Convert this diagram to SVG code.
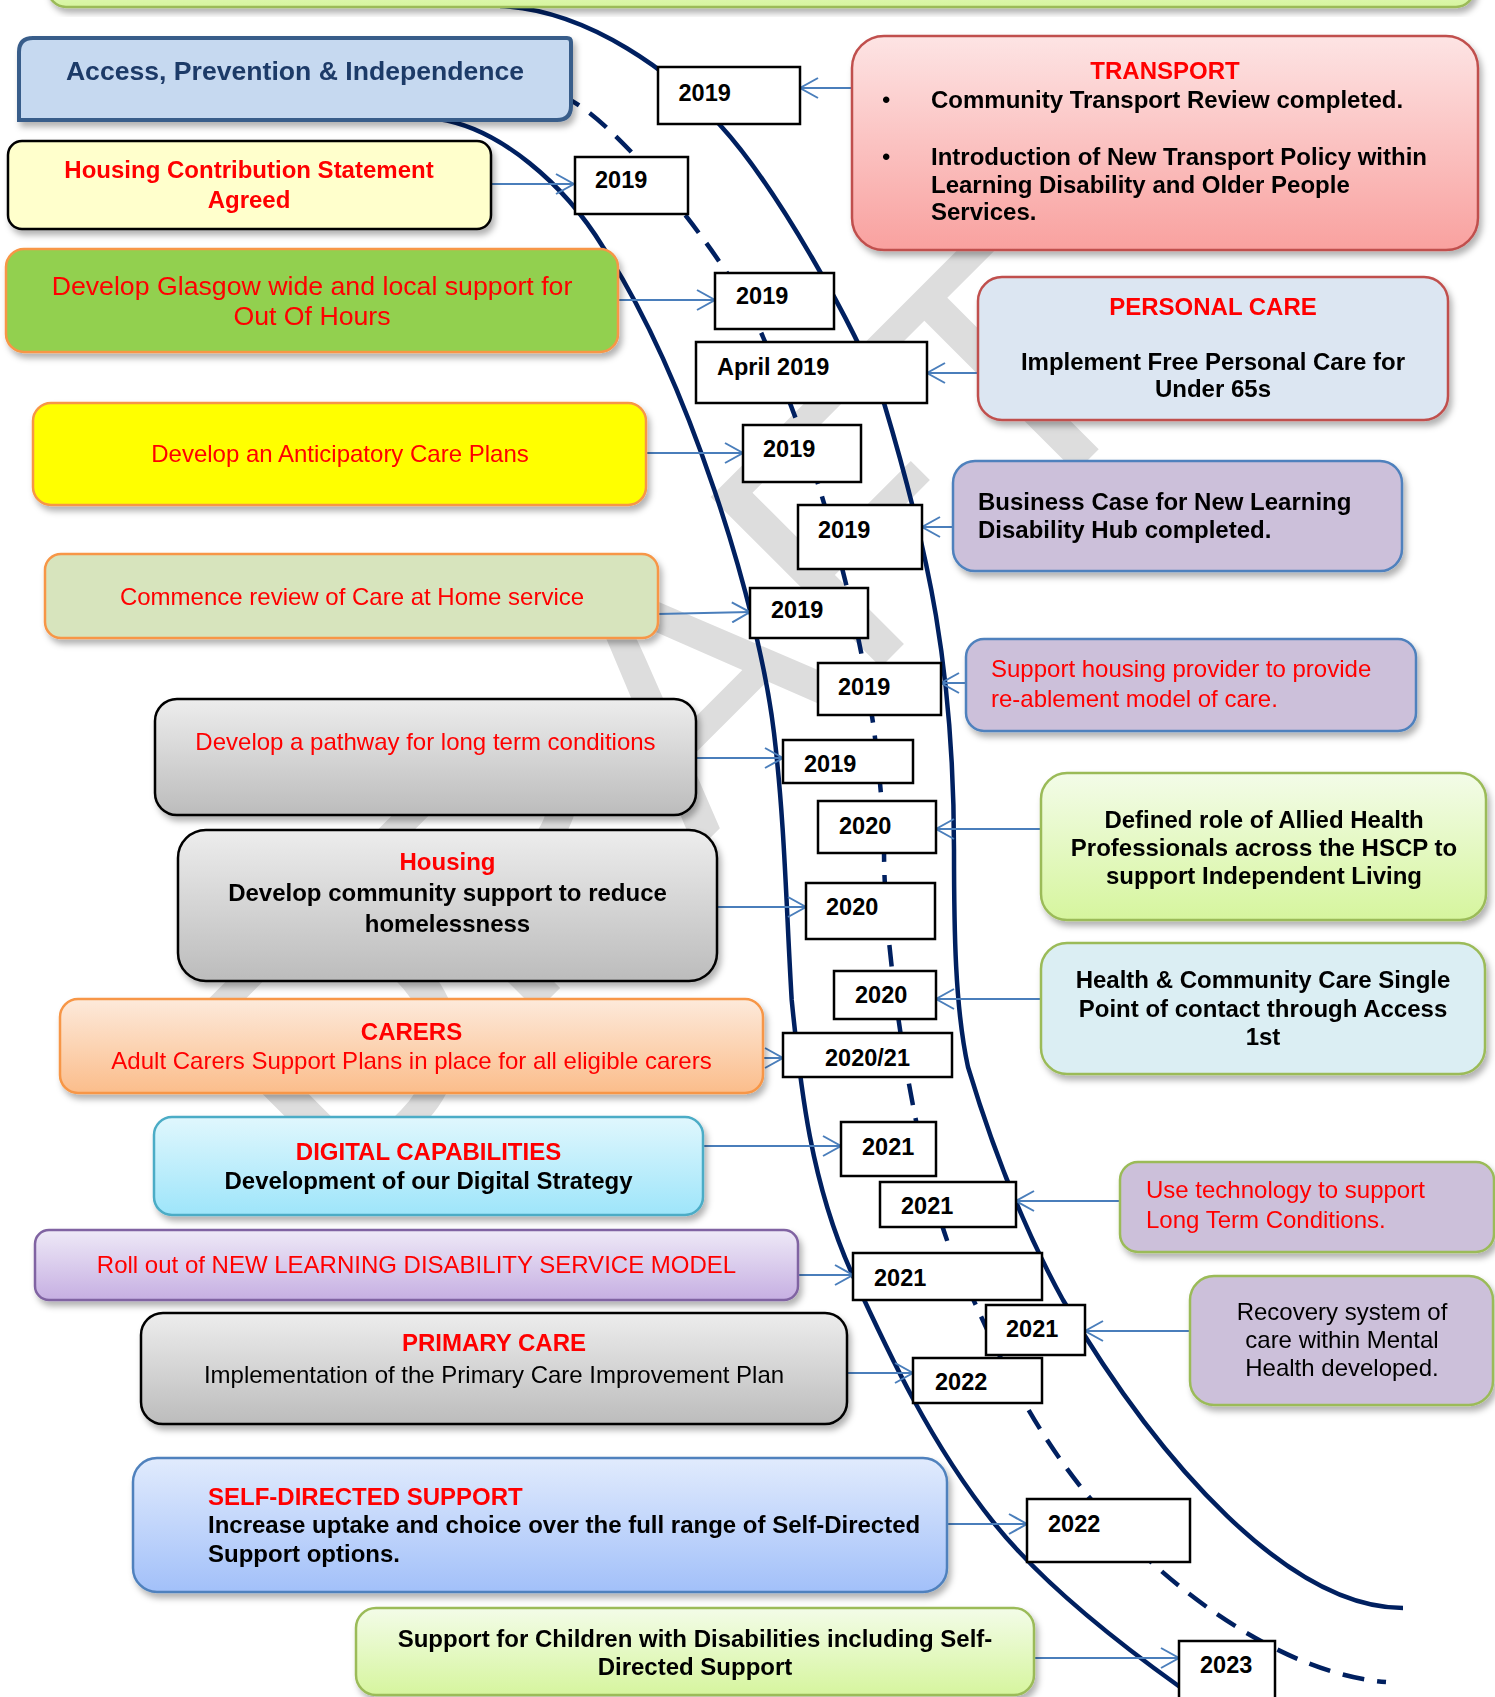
<svg xmlns="http://www.w3.org/2000/svg" width="1495" height="1697" viewBox="0 0 1495 1697">
  <style>
    text { font-family: "Liberation Sans", Arial, Helvetica, sans-serif; font-size: 24px; }
    .b { font-weight: bold; }
    .red { fill: #ff0000; }
    .blk { fill: #000000; }
    .mid { text-anchor: middle; }
    .yr { font-size: 23.5px; font-weight: bold; fill: #000; }
    .yb { fill: #ffffff; stroke: #000000; stroke-width: 2.5; }
    .conn { fill: none; stroke: #4a7ebb; stroke-width: 2; marker-end: url(#arr); }
    .tl { fill: none; stroke: #002060; stroke-width: 4.5; }
    .dash { stroke-dasharray: 22 13; }
    .wm { font-size: 350px; fill: #dddddd; }
  </style>
  <defs>
    <filter id="sh" x="-5%" y="-10%" width="115%" height="130%">
      <feDropShadow dx="3" dy="5" stdDeviation="3" flood-color="#000" flood-opacity="0.3"/>
    </filter>
    <marker id="arr" viewBox="0 0 21 22" refX="19" refY="11" markerWidth="21" markerHeight="22" orient="auto" markerUnits="userSpaceOnUse">
      <path d="M1,1 L19,11 L1,21" fill="none" stroke="#4a7ebb" stroke-width="2"/>
    </marker>
    <linearGradient id="gGreen" x1="0" y1="0" x2="0" y2="1">
      <stop offset="0" stop-color="#f3fce8"/><stop offset="1" stop-color="#d6f59e"/>
    </linearGradient>
    <linearGradient id="gGray" x1="0" y1="0" x2="0" y2="1">
      <stop offset="0" stop-color="#ededed"/><stop offset="1" stop-color="#bcbcbc"/>
    </linearGradient>
    <linearGradient id="gPink" x1="0" y1="0" x2="0" y2="1">
      <stop offset="0" stop-color="#fde4e4"/><stop offset="1" stop-color="#f9a19f"/>
    </linearGradient>
    <linearGradient id="gPeach" x1="0" y1="0" x2="0" y2="1">
      <stop offset="0" stop-color="#fdeadb"/><stop offset="1" stop-color="#fbbd8b"/>
    </linearGradient>
    <linearGradient id="gCyan" x1="0" y1="0" x2="0" y2="1">
      <stop offset="0" stop-color="#e0f7fd"/><stop offset="1" stop-color="#9ee5fa"/>
    </linearGradient>
    <linearGradient id="gLav" x1="0" y1="0" x2="0" y2="1">
      <stop offset="0" stop-color="#eee9f7"/><stop offset="1" stop-color="#c6afe2"/>
    </linearGradient>
    <linearGradient id="gBlue" x1="0" y1="0" x2="0" y2="1">
      <stop offset="0" stop-color="#e1ebfd"/><stop offset="1" stop-color="#a2c0f9"/>
    </linearGradient>
  </defs>

  <!-- background watermark -->
  <g id="watermark">
    <text class="wm" x="338" y="1210" transform="rotate(-45 338 1210)">DRAFT</text>
  </g>

  <!-- timeline road: two solid edges and a dashed centre line -->
  <g id="timeline">
    <path class="tl" d="M500,6 C590,10 675,75 720,125 C775,185 855,325 884,403 C929,553 954,670 954,850 C954,930 955,1007 968,1067 C990,1140 1019,1220 1063,1300 C1160,1465 1290,1608 1403,1608"/>
    <path class="tl" d="M415,116 L438,119 C500,128 565,185 603,247 C687.5,377 758.4,603 774,733 C784.8,823 786.3,910 791.7,1000 C800.7,1090 811.2,1183 851.7,1273 C888.5,1353 930,1443 994,1523 C1042,1583 1117,1642 1180,1687 L1200,1700"/>
    <path class="tl dash" d="M560,95 L572,101 C628,133 735,270 763,337 C829,487 879.5,680 884,850 C884,960 915,1150 948,1243 C988.5,1333 1022.6,1417 1089,1497 C1172,1597 1290,1675 1386,1682"/>
  </g>

  <!-- connectors from each action to its date -->
  <g id="connectors">
    <path class="conn" d="M852,88 L800,88"/>
    <path class="conn" d="M491,184 L574,184"/>
    <path class="conn" d="M618,300 L715,300"/>
    <path class="conn" d="M978,373 L927,373"/>
    <path class="conn" d="M646,453 L743,453"/>
    <path class="conn" d="M953,527 L922,527"/>
    <path class="conn" d="M658,614 L750,612"/>
    <path class="conn" d="M966,683 L941,683"/>
    <path class="conn" d="M696,758 L783,758"/>
    <path class="conn" d="M1041,829 L936,829"/>
    <path class="conn" d="M717,907 L806,907"/>
    <path class="conn" d="M1041,999 L936,999"/>
    <path class="conn" d="M763,1058 L783,1058"/>
    <path class="conn" d="M703,1146 L841,1146"/>
    <path class="conn" d="M1120,1201 L1016,1201"/>
    <path class="conn" d="M798,1275 L853,1275"/>
    <path class="conn" d="M1190,1331 L1085,1331"/>
    <path class="conn" d="M847,1373 L913,1373"/>
    <path class="conn" d="M947,1524 L1027,1524"/>
    <path class="conn" d="M1034,1658 L1179,1658"/>
  </g>

  <!-- action boxes -->
  <g id="n-top" filter="url(#sh)">
    <rect x="48" y="-40" width="1426" height="47" rx="18" fill="url(#gGreen)" stroke="#9bbb59" stroke-width="2.5"/>
  </g>

  <g id="n-access" filter="url(#sh)">
    <path d="M19,120 L19,52 Q19,38 33,38 L567,38 Q571,38 571,42 L571,106 Q571,120 557,120 Z" fill="#c6d9f0" stroke="#385d8a" stroke-width="4"/>
    <text class="b mid" x="295" y="80" style="font-size:26.6px;fill:#1f3a68">Access, Prevention &amp; Independence</text>
  </g>

  <g id="n-housing-contribution" filter="url(#sh)">
    <rect x="8" y="141" width="483" height="88" rx="14" fill="#ffffcc" stroke="#000" stroke-width="2.5"/>
    <text class="b red mid" x="249" y="178">Housing Contribution Statement</text>
    <text class="b red mid" x="249" y="208">Agreed</text>
  </g>

  <g id="n-out-of-hours" filter="url(#sh)">
    <rect x="6" y="249" width="612" height="103" rx="18" fill="#92d050" stroke="#f79646" stroke-width="2.5"/>
    <text class="red mid" x="312" y="295" style="font-size:26.7px">Develop Glasgow wide and local support for</text>
    <text class="red mid" x="312" y="325" style="font-size:26.7px">Out Of Hours</text>
  </g>

  <g id="n-anticipatory" filter="url(#sh)">
    <rect x="33" y="403" width="613" height="102" rx="18" fill="#ffff00" stroke="#f79646" stroke-width="2.5"/>
    <text class="red mid" x="340" y="462">Develop an Anticipatory Care Plans</text>
  </g>

  <g id="n-care-at-home" filter="url(#sh)">
    <rect x="45" y="554" width="613" height="84" rx="16" fill="#d7e4bd" stroke="#f79646" stroke-width="2.5"/>
    <text class="red mid" x="352" y="605">Commence review of Care at Home service</text>
  </g>

  <g id="n-pathway" filter="url(#sh)">
    <rect x="155" y="699" width="541" height="116" rx="22" fill="url(#gGray)" stroke="#000" stroke-width="2.5"/>
    <text class="red mid" x="425.5" y="750">Develop a pathway for long term conditions</text>
  </g>

  <g id="n-housing" filter="url(#sh)">
    <rect x="178" y="830" width="539" height="151" rx="28" fill="url(#gGray)" stroke="#000" stroke-width="2.5"/>
    <text class="b red mid" x="447.5" y="870">Housing</text>
    <text class="b blk mid" x="447.5" y="901">Develop community support to reduce</text>
    <text class="b blk mid" x="447.5" y="932">homelessness</text>
  </g>

  <g id="n-carers" filter="url(#sh)">
    <rect x="60" y="999" width="703" height="94" rx="18" fill="url(#gPeach)" stroke="#f79646" stroke-width="2.5"/>
    <text class="b red mid" x="411.5" y="1040">CARERS</text>
    <text class="red mid" x="411.5" y="1069">Adult Carers Support Plans in place for all eligible carers</text>
  </g>

  <g id="n-digital" filter="url(#sh)">
    <rect x="154" y="1117" width="549" height="98" rx="18" fill="url(#gCyan)" stroke="#4bacc6" stroke-width="2.5"/>
    <text class="b red mid" x="428.5" y="1160">DIGITAL CAPABILITIES</text>
    <text class="b blk mid" x="428.5" y="1189">Development of our Digital Strategy</text>
  </g>

  <g id="n-learning-disability" filter="url(#sh)">
    <rect x="35" y="1230" width="763" height="70" rx="14" fill="url(#gLav)" stroke="#8064a2" stroke-width="2.5"/>
    <text class="red mid" x="416.5" y="1273">Roll out of NEW LEARNING DISABILITY SERVICE MODEL</text>
  </g>

  <g id="n-primary-care" filter="url(#sh)">
    <rect x="141" y="1313" width="706" height="111" rx="22" fill="url(#gGray)" stroke="#000" stroke-width="2.5"/>
    <text class="b red mid" x="494" y="1351">PRIMARY CARE</text>
    <text class="blk mid" x="494" y="1383">Implementation of the Primary Care Improvement Plan</text>
  </g>

  <g id="n-sds" filter="url(#sh)">
    <rect x="133" y="1458" width="814" height="134" rx="24" fill="url(#gBlue)" stroke="#4f81bd" stroke-width="2.5"/>
    <text class="b red" x="208" y="1505">SELF-DIRECTED SUPPORT</text>
    <text class="b blk" x="208" y="1533">Increase uptake and choice over the full range of Self-Directed</text>
    <text class="b blk" x="208" y="1562">Support options.</text>
  </g>

  <g id="n-children" filter="url(#sh)">
    <rect x="356" y="1608" width="678" height="87" rx="20" fill="url(#gGreen)" stroke="#9bbb59" stroke-width="2.5"/>
    <text class="b blk mid" x="695" y="1647">Support for Children with Disabilities including Self-</text>
    <text class="b blk mid" x="695" y="1675">Directed Support</text>
  </g>

  <g id="n-transport" filter="url(#sh)">
    <rect x="852" y="36" width="626" height="214" rx="32" fill="url(#gPink)" stroke="#c0504d" stroke-width="2.5"/>
    <text class="b red mid" x="1165" y="79">TRANSPORT</text>
    <text class="blk" x="882" y="108">•</text>
    <text class="blk" x="882" y="165">•</text>
    <text class="b blk" x="931" y="108">Community Transport Review completed.</text>
    <text class="b blk" x="931" y="165">Introduction of New Transport Policy within</text>
    <text class="b blk" x="931" y="193">Learning Disability and Older People</text>
    <text class="b blk" x="931" y="220">Services.</text>
  </g>

  <g id="n-personal-care" filter="url(#sh)">
    <rect x="978" y="277" width="470" height="143" rx="24" fill="#dce6f2" stroke="#c0504d" stroke-width="2.5"/>
    <text class="b red mid" x="1213" y="315">PERSONAL CARE</text>
    <text class="b blk mid" x="1213" y="370">Implement Free Personal Care for</text>
    <text class="b blk mid" x="1213" y="397">Under 65s</text>
  </g>

  <g id="n-ld-hub" filter="url(#sh)">
    <rect x="953" y="461" width="449" height="110" rx="22" fill="#ccc0da" stroke="#4f81bd" stroke-width="2.5"/>
    <text class="b blk" x="978" y="510">Business Case for New Learning</text>
    <text class="b blk" x="978" y="538">Disability Hub completed.</text>
  </g>

  <g id="n-reablement" filter="url(#sh)">
    <rect x="966" y="639" width="450" height="92" rx="18" fill="#ccc0da" stroke="#4f81bd" stroke-width="2.5"/>
    <text class="red" x="991" y="677">Support housing provider to provide</text>
    <text class="red" x="991" y="707">re-ablement model of care.</text>
  </g>

  <g id="n-ahp" filter="url(#sh)">
    <rect x="1041" y="773" width="445" height="147" rx="26" fill="url(#gGreen)" stroke="#9bbb59" stroke-width="2.5"/>
    <text class="b blk mid" x="1264" y="828">Defined role of Allied Health</text>
    <text class="b blk mid" x="1264" y="856">Professionals across the HSCP to</text>
    <text class="b blk mid" x="1264" y="884">support Independent Living</text>
  </g>

  <g id="n-access-1st" filter="url(#sh)">
    <rect x="1041" y="943" width="444" height="131" rx="26" fill="#dbeef3" stroke="#9bbb59" stroke-width="2.5"/>
    <text class="b blk mid" x="1263" y="988">Health &amp; Community Care Single</text>
    <text class="b blk mid" x="1263" y="1017">Point of contact through Access</text>
    <text class="b blk mid" x="1263" y="1045">1st</text>
  </g>

  <g id="n-technology" filter="url(#sh)">
    <rect x="1120" y="1162" width="374" height="90" rx="18" fill="#ccc0da" stroke="#9bbb59" stroke-width="2.5"/>
    <text class="red" x="1146" y="1198">Use technology to support</text>
    <text class="red" x="1146" y="1228">Long Term Conditions.</text>
  </g>

  <g id="n-mental-health" filter="url(#sh)">
    <rect x="1190" y="1276" width="303" height="129" rx="24" fill="#ccc0da" stroke="#9bbb59" stroke-width="2.5"/>
    <text class="blk mid" x="1342" y="1320">Recovery system of</text>
    <text class="blk mid" x="1342" y="1348">care within Mental</text>
    <text class="blk mid" x="1342" y="1376">Health developed.</text>
  </g>

  <!-- date markers on the road -->
  <g id="d-01"><rect class="yb" x="658" y="67" width="142" height="57"/><text class="yr" x="678.5" y="101">2019</text></g>
  <g id="d-02"><rect class="yb" x="575" y="157" width="113" height="57"/><text class="yr" x="595" y="188">2019</text></g>
  <g id="d-03"><rect class="yb" x="715" y="273" width="119" height="56"/><text class="yr" x="736" y="304">2019</text></g>
  <g id="d-04"><rect class="yb" x="696" y="342" width="231" height="61"/><text class="yr" x="717" y="375">April 2019</text></g>
  <g id="d-05"><rect class="yb" x="743" y="425" width="118" height="57"/><text class="yr" x="763" y="457">2019</text></g>
  <g id="d-06"><rect class="yb" x="798" y="505" width="124" height="64"/><text class="yr" x="818" y="538">2019</text></g>
  <g id="d-07"><rect class="yb" x="750" y="588" width="118" height="50"/><text class="yr" x="771" y="618">2019</text></g>
  <g id="d-08"><rect class="yb" x="818" y="663" width="123" height="52"/><text class="yr" x="838" y="695">2019</text></g>
  <g id="d-09"><rect class="yb" x="783" y="740" width="130" height="43"/><text class="yr" x="804" y="772">2019</text></g>
  <g id="d-10"><rect class="yb" x="818" y="801" width="118" height="52"/><text class="yr" x="839" y="834">2020</text></g>
  <g id="d-11"><rect class="yb" x="806" y="883" width="129" height="56"/><text class="yr" x="826" y="915">2020</text></g>
  <g id="d-12"><rect class="yb" x="834" y="971" width="102" height="48"/><text class="yr" x="855" y="1003">2020</text></g>
  <g id="d-13"><rect class="yb" x="783" y="1033" width="169" height="44"/><text class="yr mid" x="867.5" y="1066">2020/21</text></g>
  <g id="d-14"><rect class="yb" x="841" y="1122" width="95" height="54"/><text class="yr" x="862" y="1155">2021</text></g>
  <g id="d-15"><rect class="yb" x="880" y="1182" width="136" height="45"/><text class="yr" x="901" y="1214">2021</text></g>
  <g id="d-16"><rect class="yb" x="853" y="1253" width="189" height="47"/><text class="yr" x="874" y="1286">2021</text></g>
  <g id="d-17"><rect class="yb" x="986" y="1305" width="99" height="50"/><text class="yr" x="1006" y="1337">2021</text></g>
  <g id="d-18"><rect class="yb" x="913" y="1358" width="129" height="45"/><text class="yr" x="935" y="1390">2022</text></g>
  <g id="d-19"><rect class="yb" x="1027" y="1499" width="163" height="63"/><text class="yr" x="1048" y="1532">2022</text></g>
  <g id="d-20"><rect class="yb" x="1179" y="1641" width="96" height="62"/><text class="yr" x="1200" y="1673">2023</text></g>
</svg>
